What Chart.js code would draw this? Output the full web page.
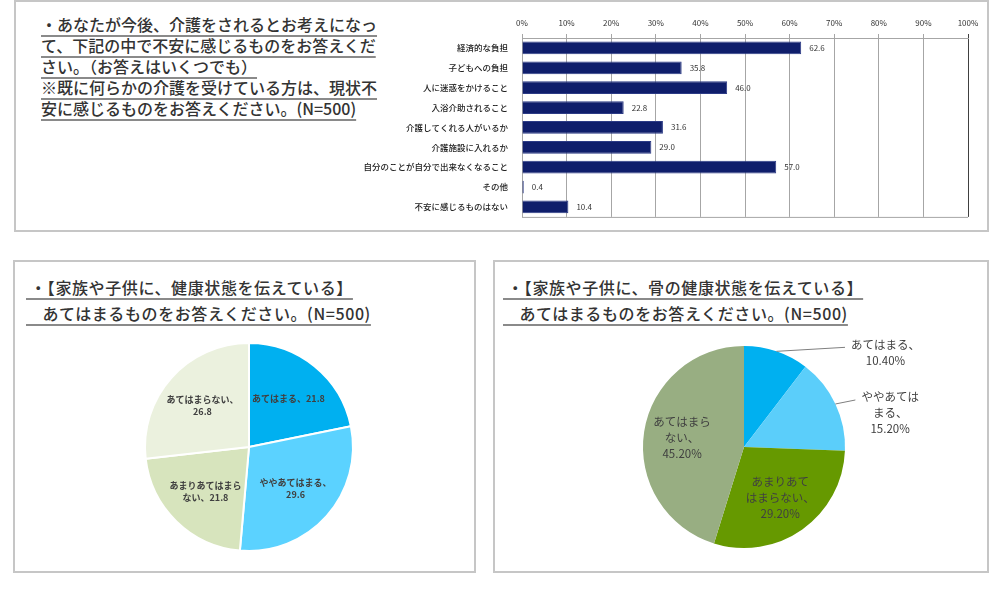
<!DOCTYPE html>
<html lang="ja">
<head>
<meta charset="utf-8">
<script src="https://cdn.jsdelivr.net/npm/chart.js@4.4.1/dist/chart.umd.min.js"></script>
<style>
  body { margin:0; width:1004px; height:590px; background:#fff; position:relative; overflow:hidden;
         font-family:"Noto Sans CJK JP", sans-serif; }
  .box { position:absolute; border:2px solid #c6c6c6; box-sizing:border-box; }
  .q { position:absolute; margin:0; color:#333; font-size:16px; font-weight:500; white-space:pre; }
  .q span { text-decoration:underline; text-decoration-color:#8a8a8a; text-decoration-thickness:2px;
            text-underline-offset:4px; }
  .t { letter-spacing:0.6px; }
  canvas { position:absolute; }
</style>
</head>
<body>
<div class="box" style="left:14px;top:0;width:975px;height:232px;"></div>
<div class="box" style="left:13px;top:260px;width:463px;height:313px;"></div>
<div class="box" style="left:493px;top:260px;width:496px;height:313px;"></div>

<p class="q" style="left:41px;top:14px;line-height:21px;"><span>・あなたが今後、介護をされるとお考えになっ
て、下記の中で不安に感じるものをお答えくだ
さい。（お答えはいくつでも）
※既に何らかの介護を受けている方は、現状不
安に感じるものをお答えください。(N=500)</span></p>

<p class="q t" style="left:26px;top:274px;line-height:26px;"><span> ・【家族や子供に、健康状態を伝えている】
　あてはまるものをお答えください。(N=500)</span></p>

<p class="q t" style="left:503px;top:274px;line-height:26px;"><span> ・【家族や子供に、骨の健康状態を伝えている】
　あてはまるものをお答えください。(N=500)</span></p>

<canvas id="bar" width="625" height="222" style="left:360px;top:6px;"></canvas>
<canvas id="pieFamily" width="230" height="230" style="left:134px;top:332px;"></canvas>
<canvas id="pieBone" width="360" height="254" style="left:600px;top:320px;"></canvas>

<script>
const barCategories = ['経済的な負担', '子どもへの負担', '人に迷惑をかけること', '入浴介助されること',
  '介護してくれる人がいるか', '介護施設に入れるか', '自分のことが自分で出来なくなること', 'その他', '不安に感じるものはない'];
const barValues = [62.6, 35.8, 46.0, 22.8, 31.6, 29.0, 57.0, 0.4, 10.4];
const percentTicks = [0, 10, 20, 30, 40, 50, 60, 70, 80, 90, 100];

const pieCategories = ['あてはまる', 'ややあてはまる', 'あまりあてはまらない', 'あてはまらない'];
const familyHealthValues = [21.8, 29.6, 21.8, 26.8];
const boneHealthValues = [10.4, 15.2, 29.2, 45.2];

const FONT = '"Noto Sans CJK JP", sans-serif';
Chart.defaults.font.family = FONT;

// value text to the right of each bar
const barValueLabels = {
  id: 'barValueLabels',
  afterDatasetsDraw(chart) {
    const ctx = chart.ctx;
    ctx.save();
    ctx.font = '8px ' + FONT;
    ctx.fillStyle = '#333';
    ctx.textBaseline = 'middle';
    chart.getDatasetMeta(0).data.forEach((bar, i) => {
      ctx.fillText(barValues[i].toFixed(1), bar.x + 8, bar.y);
    });
    ctx.restore();
  }
};

// plot frame (bottom edge)
const plotFrame = {
  id: 'plotFrame',
  beforeDatasetsDraw(chart) {
    const a = chart.chartArea, ctx = chart.ctx;
    ctx.save();
    ctx.strokeStyle = '#a6a6a6';
    ctx.lineWidth = 1;
    ctx.beginPath();
    ctx.moveTo(a.left, a.bottom + 0.5);
    ctx.lineTo(a.right, a.bottom + 0.5);
    ctx.stroke();
    ctx.restore();
  }
};

new Chart(document.getElementById('bar'), {
  type: 'bar',
  data: {
    labels: barCategories,
    datasets: [{
      data: barValues,
      backgroundColor: '#0f1e6b',
      borderColor: '#2c3b86',
      borderWidth: 1,
      barPercentage: 0.64,
      categoryPercentage: 1
    }]
  },
  options: {
    indexAxis: 'y',
    responsive: false,
    animation: false,
    layout: { padding: { top: 0, right: 17, bottom: 8, left: 0 } },
    plugins: { legend: { display: false }, tooltip: { enabled: false } },
    scales: {
      x: {
        position: 'top',
        min: 0,
        max: 100,
        afterBuildTicks: s => { s.ticks = percentTicks.map(v => ({ value: v })); },
        ticks: { callback: v => v + '%', font: { size: 8 }, color: '#333', padding: 6 },
        grid: { color: c => (c.tick && c.tick.value === 100 ? '#404040' : '#a6a6a6'), tickLength: 4 },
        border: { color: '#a6a6a6' },
        afterFit: s => { s.height = 32; }
      },
      y: {
        ticks: { font: { size: 8.5, weight: '500' }, color: '#222', padding: 6, autoSkip: false },
        grid: { display: false },
        border: { color: '#a6a6a6' },
        afterFit: s => { s.width = 162; }
      }
    }
  },
  plugins: [barValueLabels, plotFrame]
});

// wrap "name、value" by character units; 、 may hang at line end
function wrapLabel(name, value, maxUnits) {
  const tokens = [...name].map(c => ({ t: c, w: 1 }));
  tokens.push({ t: '、', w: 1, hang: true });
  tokens.push({ t: value, w: value.length * 0.5 });
  const lines = [];
  let cur = '', w = 0;
  tokens.forEach(tok => {
    if (cur && w + tok.w > maxUnits && !tok.hang) { lines.push(cur); cur = ''; w = 0; }
    cur += tok.t; w += tok.w;
  });
  lines.push(cur);
  return lines;
}

const sliceLabels = {
  id: 'sliceLabels',
  afterDatasetsDraw(chart, args, opts) {
    const ctx = chart.ctx;
    const values = chart.data.datasets[0].data;
    ctx.save();
    ctx.font = opts.weight + ' ' + opts.size + 'px ' + FONT;
    ctx.fillStyle = '#404040';
    ctx.textAlign = 'center';
    ctx.textBaseline = 'middle';
    chart.getDatasetMeta(0).data.forEach((arc, i) => {
      const lines = wrapLabel(chart.data.labels[i], opts.format(values[i]), opts.maxUnits);
      const mid = (arc.startAngle + arc.endAngle) / 2;
      const r = arc.outerRadius;
      if (values[i] < opts.outsideBelow) {
        const ex = arc.x + Math.cos(mid) * r, ey = arc.y + Math.sin(mid) * r;
        const end = { x: Math.max(ex + 20, arc.x + r), y: ey - 4 };
        ctx.strokeStyle = '#7f7f7f';
        ctx.lineWidth = 1;
        ctx.beginPath();
        ctx.moveTo(ex, ey);
        ctx.lineTo(end.x, end.y);
        ctx.stroke();
        const maxW = Math.max(...lines.map(l => ctx.measureText(l).width));
        const cx = end.x + 6 + maxW / 2;
        lines.forEach((l, k) => ctx.fillText(l, cx, end.y - 3 + k * opts.lineHeight));
      } else {
        const px = arc.x + Math.cos(mid) * r * opts.inside;
        const py = arc.y + Math.sin(mid) * r * opts.inside;
        const y0 = py - (lines.length - 1) * opts.lineHeight / 2;
        lines.forEach((l, k) => ctx.fillText(l, px, y0 + k * opts.lineHeight));
      }
    });
    ctx.restore();
  }
};

new Chart(document.getElementById('pieFamily'), {
  type: 'pie',
  data: {
    labels: pieCategories,
    datasets: [{
      data: familyHealthValues,
      backgroundColor: ['#00b0f0', '#5bd2ff', '#d7e4bd', '#ebf1de'],
      borderColor: '#ffffff',
      borderWidth: 2
    }]
  },
  options: {
    responsive: false,
    animation: false,
    layout: { padding: 10 },
    plugins: {
      legend: { display: false },
      tooltip: { enabled: false },
      sliceLabels: { size: 9, weight: 'bold', maxUnits: 8, inside: 0.6, lineHeight: 12,
                     outsideBelow: 0, format: v => v.toFixed(1) }
    }
  },
  plugins: [sliceLabels]
});

new Chart(document.getElementById('pieBone'), {
  type: 'pie',
  data: {
    labels: pieCategories,
    datasets: [{
      data: boneHealthValues,
      backgroundColor: ['#00b0f0', '#5bcefa', '#669900', '#98ae82'],
      borderWidth: 0
    }]
  },
  options: {
    responsive: false,
    animation: false,
    layout: { padding: { left: 43, right: 115, top: 26, bottom: 26 } },
    plugins: {
      legend: { display: false },
      tooltip: { enabled: false },
      sliceLabels: { size: 11.5, weight: 'normal', maxUnits: 5, inside: 0.62, lineHeight: 16,
                     outsideBelow: 20, format: v => v.toFixed(2) + '%' }
    }
  },
  plugins: [sliceLabels]
});
</script>
</body>
</html>
